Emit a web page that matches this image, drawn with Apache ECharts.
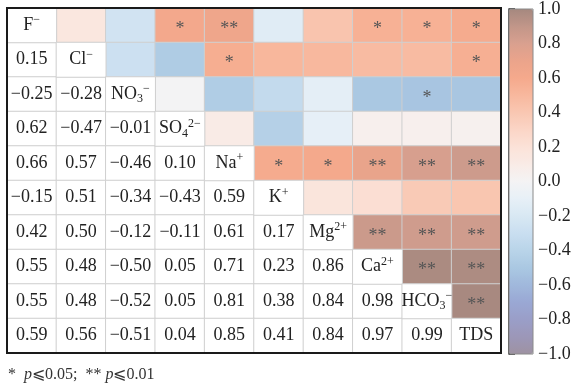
<!DOCTYPE html>
<html>
<head>
<meta charset="utf-8">
<script src="https://cdn.jsdelivr.net/npm/echarts@6/dist/echarts.min.js"></script>
<style>
  html, body { margin: 0; padding: 0; background: #fff; }
  #chart { width: 580px; height: 386px; }
</style>
</head>
<body>
<div id="chart"></div>
<script>
// Ion names, split into base symbol, subscript and charge
const ionBase   = ['F', 'Cl', 'NO', 'SO', 'Na', 'K', 'Mg', 'Ca', 'HCO', 'TDS'];
const ionSub    = ['',  '',   '3',  '4',  '',   '',  '',   '',   '3',   ''];
const ionCharge = ['−', '−',  '−',  '2−', '+',  '+', '2+', '2+', '−',   ''];

// Lower triangle of the Pearson correlation matrix (row i holds columns 0..i-1)
const corrLower = [
  [],
  [0.15],
  [-0.25, -0.28],
  [0.62, -0.47, -0.01],
  [0.66, 0.57, -0.46, 0.10],
  [-0.15, 0.51, -0.34, -0.43, 0.59],
  [0.42, 0.50, -0.12, -0.11, 0.61, 0.17],
  [0.55, 0.48, -0.50, 0.05, 0.71, 0.23, 0.86],
  [0.55, 0.48, -0.52, 0.05, 0.81, 0.38, 0.84, 0.98],
  [0.59, 0.56, -0.51, 0.04, 0.85, 0.41, 0.84, 0.97, 0.99]
];

// Significance marks for the upper triangle (row i holds columns i+1..9)
const signif = [
  ['', '', '*', '**', '', '', '*', '*', '*'],
  ['', '', '*', '', '', '', '', '*'],
  ['', '', '', '', '', '*', ''],
  ['', '', '', '', '', ''],
  ['*', '*', '**', '**', '**'],
  ['', '', '', ''],
  ['**', '**', '**'],
  ['**', '**'],
  ['**']
];

// Colour bar ticks
const barMin = -1, barMax = 1, barStep = 0.2;

const n = ionBase.length;
const idx = ionBase.map((_, i) => i);

const upperData = [], lowerData = [], diagData = [];
for (let i = 0; i < n; i++) {
  for (let j = 0; j < n; j++) {
    if (j < i) {
      lowerData.push([j, i, corrLower[i][j]]);
    } else if (j > i) {
      upperData.push({ value: [j, i, corrLower[j][i]], mark: signif[i][j - i - 1] });
    } else {
      diagData.push([j, i, i]);
    }
  }
}

const fmtNum = (v, d) => {
  const s = Math.abs(v) < 1e-9 ? (0).toFixed(d) : v.toFixed(d);
  return s.replace('-', '−');
};

const serif = '"Liberation Serif", "Times New Roman", serif';

const ionLabel = i => {
  let s = '{b|' + ionBase[i] + '}';
  if (ionSub[i]) s += '{sub|' + ionSub[i] + '}';
  if (ionCharge[i]) s += '{sup|' + ionCharge[i] + '}';
  return s;
};

const cellStyle = { borderColor: '#cfcfcf', borderWidth: 1 };

const chart = echarts.init(document.getElementById('chart'), null, { renderer: 'canvas' });

chart.setOption({
  animation: false,
  backgroundColor: '#fff',
  grid: [
    { left: 7, top: 8, width: 494, height: 345, show: true, z: 5,
      backgroundColor: 'transparent', borderColor: '#1a1a1a', borderWidth: 2 },
    { left: 509, top: 9, width: 24, height: 345, show: true, z: 5,
      backgroundColor: 'transparent', borderColor: '#8a8a8a', borderWidth: 1 }
  ],
  xAxis: [
    { type: 'category', data: idx, gridIndex: 0, show: false },
    { type: 'value', gridIndex: 1, show: false, min: 0, max: 1 }
  ],
  yAxis: [
    { type: 'category', data: idx, gridIndex: 0, inverse: true, show: false },
    {
      type: 'value', gridIndex: 1, position: 'right',
      min: barMin, max: barMax, interval: barStep,
      axisLine: { show: true, lineStyle: { color: '#111', width: 1.5 } },
      axisTick: { show: true, length: 6, lineStyle: { color: '#111', width: 1.5 } },
      splitLine: { show: false },
      axisLabel: {
        margin: 5, fontSize: 18, fontFamily: serif, color: '#222',
        formatter: v => fmtNum(v, 1)
      }
    }
  ],
  visualMap: {
    type: 'continuous',
    seriesIndex: 0,
    min: barMin, max: barMax,
    calculable: false,
    hoverLink: false,
    orient: 'vertical',
    left: 509, top: 9,
    padding: 0,
    itemWidth: 24, itemHeight: 345,
    text: null,
    inRange: {
      color: [
        '#9e92a2', '#9c97b8', '#9a9ec8', '#9aa8d4', '#a0b8dc', '#aac8e2',
        '#b9d4e9', '#c9def0', '#d8e8f3', '#e7f0f7', '#f4f3f4',
        '#f9ebe6', '#fbe2d8', '#fbd5c6', '#f9c7b2', '#f8b89e', '#f5a98c',
        '#eba48b', '#d9a08f', '#c19689', '#a5887f'
      ]
    }
  },
  series: [
    {
      type: 'heatmap', xAxisIndex: 0, yAxisIndex: 0,
      data: upperData,
      itemStyle: cellStyle,
      label: {
        show: true, fontSize: 18, fontFamily: serif, color: '#555',
        offset: [0, 4],
        formatter: p => p.data.mark
      },
      emphasis: { disabled: true }
    },
    {
      type: 'heatmap', xAxisIndex: 0, yAxisIndex: 0,
      data: lowerData,
      itemStyle: Object.assign({ color: '#ffffff' }, cellStyle),
      label: {
        show: true, fontSize: 18, fontFamily: serif, color: '#222',
        formatter: p => fmtNum(p.data[2], 2)
      },
      emphasis: { disabled: true }
    },
    {
      type: 'heatmap', xAxisIndex: 0, yAxisIndex: 0,
      data: diagData,
      itemStyle: Object.assign({ color: '#ffffff' }, cellStyle),
      label: {
        show: true,
        formatter: p => ionLabel(p.data[2]),
        rich: {
          b:   { fontSize: 18, fontFamily: serif, color: '#222', lineHeight: 22, verticalAlign: 'middle' },
          sub: { fontSize: 12, fontFamily: serif, color: '#222', lineHeight: 12, verticalAlign: 'bottom' },
          sup: { fontSize: 12, fontFamily: serif, color: '#222', lineHeight: 12, verticalAlign: 'top' }
        }
      },
      emphasis: { disabled: true }
    }
  ],
  graphic: [
    {
      type: 'text', left: 8, top: 367,
      style: {
        text: '{n|*  }{i|p}{n|⩽0.05;  ** }{i|p}{n|⩽0.01}',
        rich: {
          n: { fontSize: 16, fontFamily: serif, fill: '#333' },
          i: { fontSize: 16, fontFamily: serif, fontStyle: 'italic', fill: '#333' }
        }
      }
    }
  ]
});
</script>
</body>
</html>
